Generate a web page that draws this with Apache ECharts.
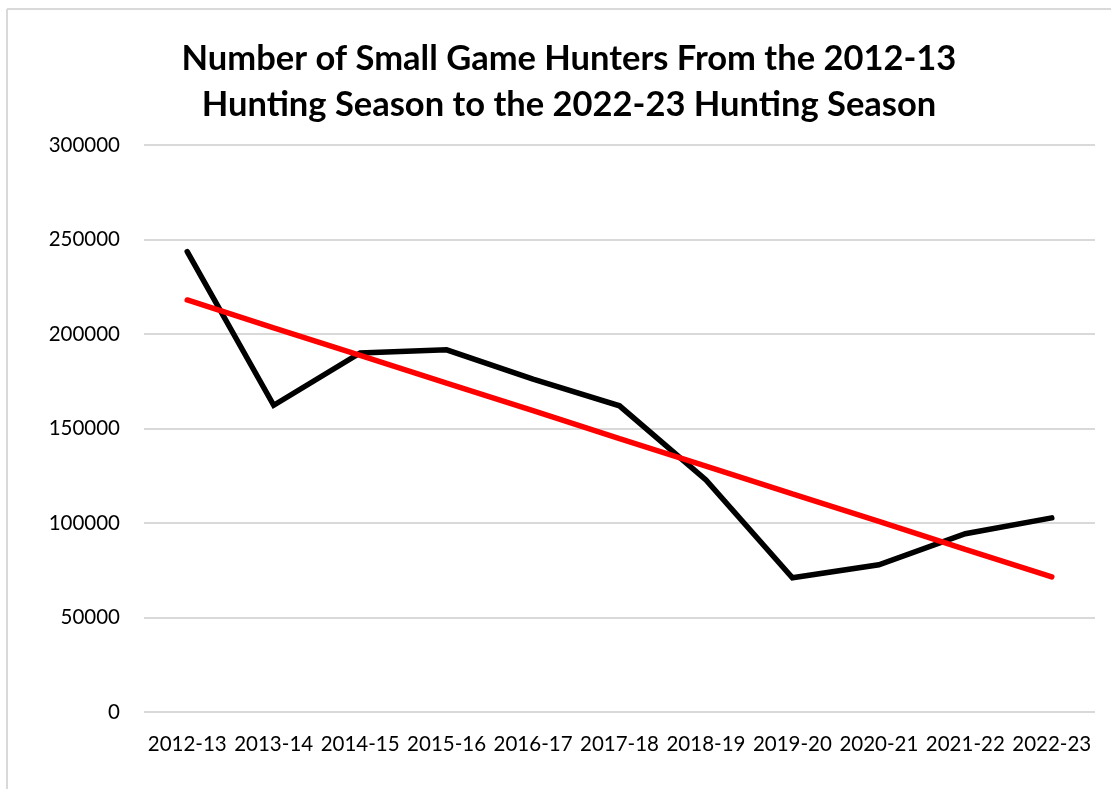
<!DOCTYPE html>
<html>
<head>
<meta charset="utf-8">
<script src="https://cdn.jsdelivr.net/npm/echarts@6/dist/echarts.min.js"></script>
<style>
  html, body { margin: 0; padding: 0; background: #fff; }
  #chart { width: 1111px; height: 789px; }
</style>
</head>
<body>
<div id="chart"></div>
<script>
// hunting seasons
var seasons = ['2012-13', '2013-14', '2014-15', '2015-16', '2016-17', '2017-18',
    '2018-19', '2019-20', '2020-21', '2021-22', '2022-23'];
// number of small game hunters
var hunters = [243600, 162300, 190000, 191600, 176100, 162000,
    122800, 71000, 77900, 94300, 102700];
// linear trend line as drawn
var trend = [218000, 203300, 188700, 174000, 159400, 144700,
    130100, 115400, 100800, 86100, 71500];
var yTicks = [0, 50000, 100000, 150000, 200000, 250000, 300000];

var chart = echarts.init(document.getElementById('chart'));
var font = 'Lato, "Open Sans", sans-serif';

var option = {
    backgroundColor: '#fff',
    animation: false,
    title: {
        text: 'Number of Small Game Hunters From the 2012-13\nHunting Season to the 2022-23 Hunting Season',
        left: 564,
        textAlign: 'center',
        top: 31,
        textStyle: {
            fontFamily: font,
            fontSize: 34.5,
            fontWeight: 'bold',
            color: '#000',
            lineHeight: 46
        }
    },
    grid: {
        left: 144,
        right: 16,
        top: 145,
        bottom: 77
    },
    xAxis: {
        type: 'category',
        data: seasons,
        boundaryGap: true,
        axisLine: { show: false },
        axisTick: { show: false },
        axisLabel: {
            margin: 22,
            interval: 0,
            fontFamily: font,
            fontSize: 20.5,
            color: '#000'
        }
    },
    yAxis: {
        type: 'value',
        min: yTicks[0],
        max: yTicks[yTicks.length - 1],
        interval: 50000,
        axisLine: { show: false },
        axisTick: { show: false },
        splitLine: { lineStyle: { color: '#d9d9d9', width: 2 } },
        axisLabel: {
            margin: 24,
            fontFamily: font,
            fontSize: 20.5,
            color: '#000',
            formatter: function(v) { return String(v); }
        }
    },
    series: [
        {
            name: 'Hunters',
            type: 'line',
            data: hunters,
            symbol: 'none',
            lineStyle: { color: '#000', width: 5.5, cap: 'round', join: 'miter' }
        },
        {
            name: 'Trend',
            type: 'line',
            data: trend,
            symbol: 'none',
            lineStyle: { color: '#ff0000', width: 5.5, cap: 'round' }
        }
    ],
    graphic: [
        {
            type: 'line',
            shape: { x1: 7, y1: 9, x2: 7, y2: 789 },
            style: { stroke: '#d9d9d9', lineWidth: 2 }
        },
        {
            type: 'line',
            shape: { x1: 7, y1: 9, x2: 1111, y2: 9 },
            style: { stroke: '#d9d9d9', lineWidth: 2 }
        }
    ]
};
chart.setOption(option);
</script>
</body>
</html>
